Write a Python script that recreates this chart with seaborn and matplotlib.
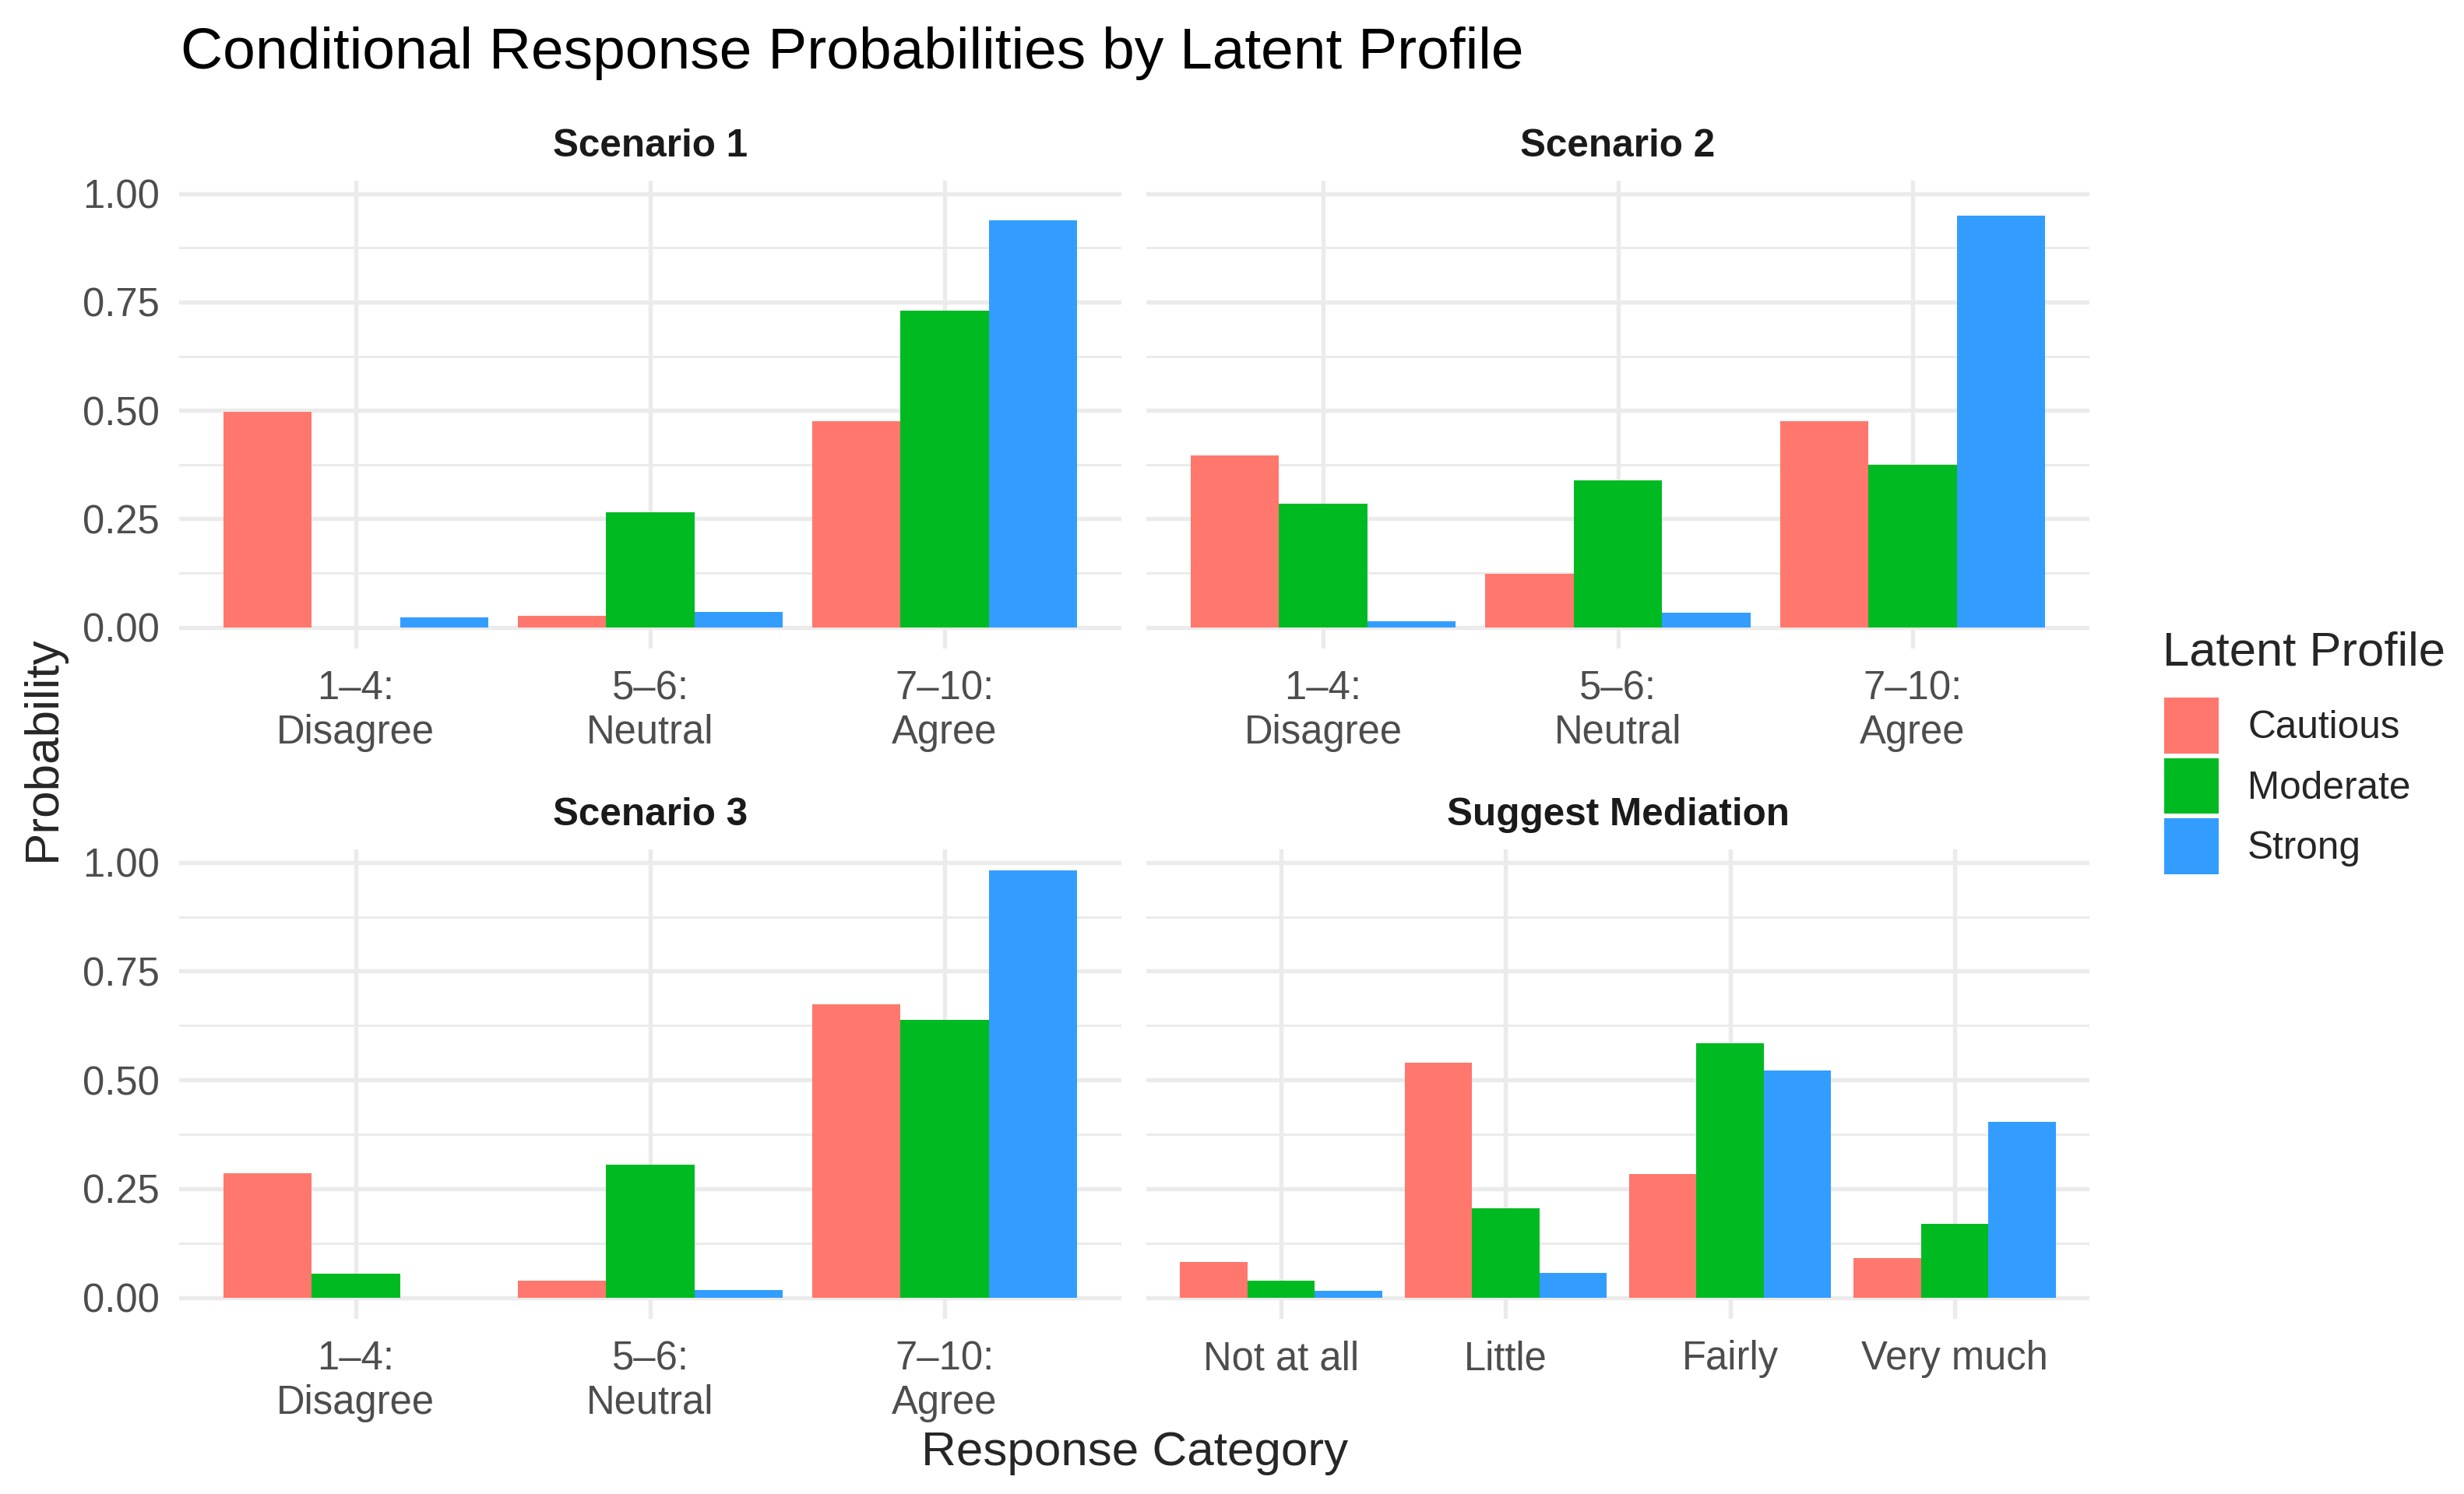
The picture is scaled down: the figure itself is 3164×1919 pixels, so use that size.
import numpy as np
import pandas as pd
import seaborn as sns
import matplotlib.pyplot as plt
from matplotlib.patches import Patch
from matplotlib.ticker import FixedLocator

# data
profiles = ["Cautious", "Moderate", "Strong"]
colors = ["#FF776D", "#00BA22", "#339DFF"]

agree_cats = ["1\u20134:\nDisagree", "5\u20136:\nNeutral", "7\u201310:\nAgree"]
mediation_cats = ["Not at all", "Little", "Fairly", "Very much"]

# rows = profile (Cautious, Moderate, Strong), columns = category
scenario1 = [[0.496, 0.026, 0.476],
             [0.000, 0.266, 0.731],
             [0.023, 0.036, 0.938]]
scenario2 = [[0.396, 0.123, 0.476],
             [0.285, 0.338, 0.374],
             [0.014, 0.033, 0.950]]
scenario3 = [[0.285, 0.039, 0.674],
             [0.055, 0.305, 0.638],
             [0.000, 0.018, 0.981]]
mediation = [[0.082, 0.540, 0.283, 0.091],
             [0.039, 0.205, 0.585, 0.170],
             [0.016, 0.057, 0.522, 0.403]]

panels = [("Scenario 1", agree_cats, scenario1),
          ("Scenario 2", agree_cats, scenario2),
          ("Scenario 3", agree_cats, scenario3),
          ("Suggest Mediation", mediation_cats, mediation)]


def long_df(cats, vals):
    rows = []
    for p, row in zip(profiles, vals):
        for c, v in zip(cats, row):
            rows.append({"category": c, "prob": v, "profile": p})
    return pd.DataFrame(rows)


sns.set_theme(style="white")
plt.rcParams["font.family"] = ["Liberation Sans", "DejaVu Sans"]

W, H = 3164, 1919
fig = plt.figure(figsize=(W / 300, H / 300), dpi=300)

# axes boxes in pixels: (left, top, right, bottom)
boxes = [(230, 232, 1440, 833), (1472, 232, 2683, 833),
         (230, 1091, 1440, 1694), (1472, 1091, 2683, 1694)]

grid_col = "#EBEBEB"
ymax = max(max(max(r) for r in v) for _, _, v in panels)
ylim = (-0.05 * ymax, 1.05 * ymax)
tick_fs = 12.2

for i, ((name, cats, vals), (l, t, r, b)) in enumerate(zip(panels, boxes)):
    ax = fig.add_axes([l / W, 1 - b / H, (r - l) / W, (b - t) / H])
    df = long_df(cats, vals)
    sns.barplot(data=df, x="category", y="prob", hue="profile",
                order=cats, hue_order=profiles, palette=colors,
                width=0.9, errorbar=None, linewidth=0, legend=False,
                saturation=1, ax=ax)
    ax.set_xlim(-0.6, len(cats) - 0.4)
    ax.set_ylim(*ylim)
    ax.set_yticks([0, 0.25, 0.5, 0.75, 1.0])
    ax.yaxis.set_minor_locator(FixedLocator([0.125, 0.375, 0.625, 0.875]))
    ax.set_axisbelow(True)
    ax.grid(which="major", axis="both", color=grid_col, lw=1.3)
    ax.grid(which="minor", axis="y", color=grid_col, lw=0.7)
    for s in ax.spines.values():
        s.set_visible(False)
    ax.tick_params(which="both", length=0)
    ax.tick_params(axis="y", pad=6, labelsize=tick_fs, labelcolor="#4D4D4D")
    ax.tick_params(axis="x", pad=6.5, labelsize=tick_fs, labelcolor="#4D4D4D")
    for lab in ax.get_xticklabels():
        lab.set_linespacing(1.2)
    if i % 2 == 0:
        ax.set_yticklabels(["0.00", "0.25", "0.50", "0.75", "1.00"])
    else:
        ax.set_yticklabels([])
    ax.set_xlabel("")
    ax.set_ylabel("")
    ax.set_title(name, fontsize=11.9, fontweight="bold", color="#1A1A1A", pad=7.5)

fig.text(232 / W, 1 - 88 / H, "Conditional Response Probabilities by Latent Profile",
         fontsize=18, ha="left", va="baseline", color="black")
fig.text(1457 / W, 1 - 1882 / H, "Response Category", fontsize=14.9,
         ha="center", va="baseline")
fig.text(55 / W, 1 - 961 / H, "Probability", fontsize=14.9, rotation=90,
         ha="center", va="center")

# legend
fig.text(2777 / W, 1 - 854 / H, "Latent Profile", fontsize=14.8,
         ha="left", va="baseline")
handles = [Patch(facecolor=c, edgecolor="none") for c in colors]
fig.legend(handles, profiles, loc="upper left",
           bbox_to_anchor=(2779 / W, 1 - 896 / H), frameon=False,
           fontsize=11.9, handlelength=1.41, handleheight=1.85,
           labelspacing=0.12, handletextpad=0.75, borderpad=0,
           borderaxespad=0)

fig.savefig("out.png", dpi=300, facecolor="white")
